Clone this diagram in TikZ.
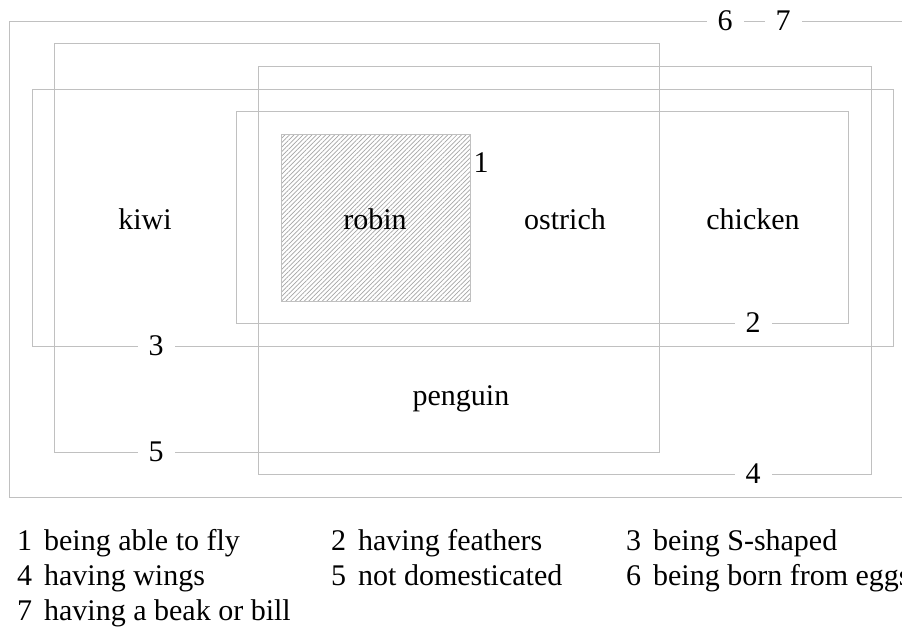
\documentclass[tikz,border=0pt]{standalone}
\usepackage{fontspec}
\setmainfont{Liberation Serif}
\usetikzlibrary{patterns.meta}
\definecolor{boxgray}{RGB}{192,192,192}
\definecolor{hatchgray}{RGB}{165,165,165}
\begin{document}
\begin{tikzpicture}[x=1pt,y=-1pt,
  setbox/.style={draw=boxgray, line width=1pt},
  tag/.style={fill=white, inner sep=0pt, minimum width=37pt, minimum height=24pt, font=\fontsize{30}{35}\selectfont},
  item/.style={font=\fontsize{30}{35}\selectfont, inner sep=0pt},
  legend/.style={anchor=base west, font=\fontsize{30}{35}\selectfont, inner sep=0pt}]
\path[use as bounding box] (0,0) rectangle (902,637);
\clip (0,0) rectangle (902,637);
\fill[white] (0,0) rectangle (902,637);
% sets
\draw[setbox] (9,21) rectangle (940,497);   % 6, 7
\draw[setbox] (54,43) rectangle (659,452);  % 5
\draw[setbox] (258,66) rectangle (871,474); % 4
\draw[setbox] (32,89) rectangle (893,346);  % 3
\draw[setbox] (236,111) rectangle (848,323);% 2
\draw[setbox, pattern={Lines[angle=45,distance=3.2pt,line width=0.7pt]}, pattern color=hatchgray] (281,134) rectangle (470,301); % 1
% set tags
\node[tag] (t6) at (725,21) {6};
\node[tag] (t7) at (783,21) {7};
\node[tag] (t5) at (156,452) {5};
\node[tag] (t4) at (753,474) {4};
\node[tag] (t3) at (156,346) {3};
\node[tag] (t2) at (753,323) {2};
\node[item] (t1) at (481,163) {1};
% members
\node[item, anchor=base] (kiwi) at (145,229) {kiwi};
\node[item, anchor=base] (robin) at (375,229) {robin};
\node[item, anchor=base] (ostrich) at (565,229) {ostrich};
\node[item, anchor=base] (chicken) at (753,229) {chicken};
\node[item, anchor=base] (penguin) at (461,405) {penguin};
% legend
\node[legend] (l1) at (17,550) {1\hspace{0.4em}being able to fly};
\node[legend] (l2) at (331,550) {2\hspace{0.4em}having feathers};
\node[legend] (l3) at (626,550) {3\hspace{0.4em}being S-shaped};
\node[legend] (l4) at (17,585) {4\hspace{0.4em}having wings};
\node[legend] (l5) at (331,585) {5\hspace{0.4em}not domesticated};
\node[legend] (l6) at (626,585) {6\hspace{0.4em}being born from eggs};
\node[legend] (l7) at (17,620) {7\hspace{0.4em}having a beak or bill};
\end{tikzpicture}
\end{document}
